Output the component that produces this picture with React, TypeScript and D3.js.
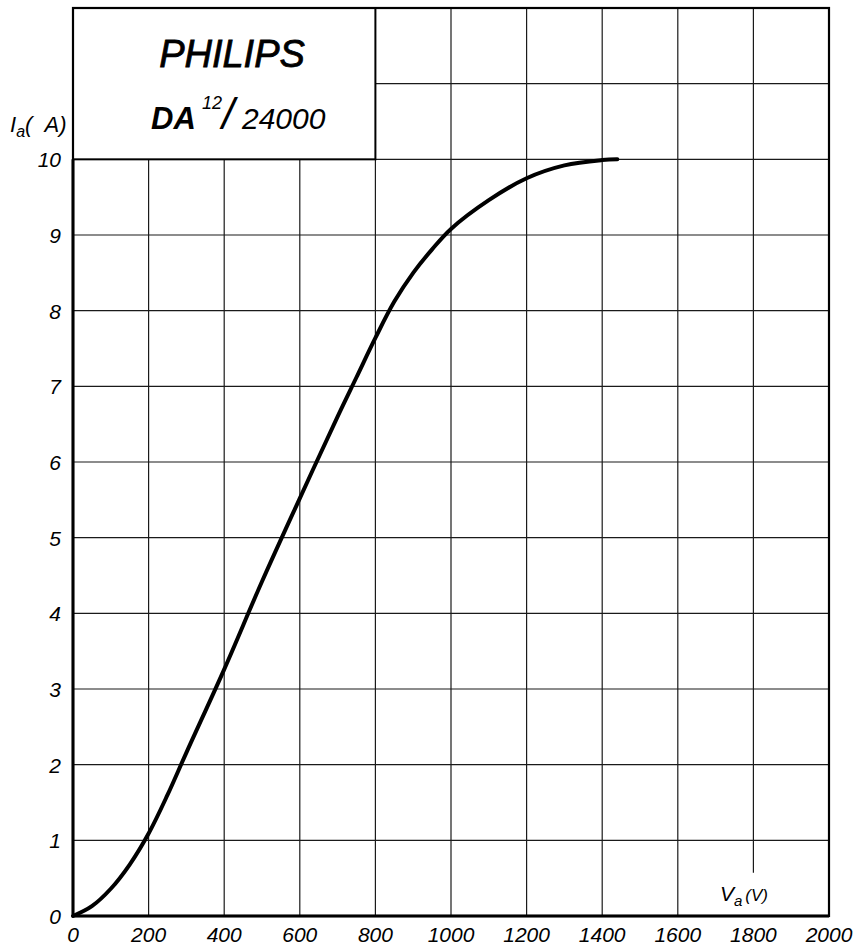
import React from 'react';
import * as d3 from 'd3';

// anode voltage (V) vs anode current (A)
const anodeVoltage = [0, 50, 100, 150, 200, 250, 300, 400, 500, 600, 700, 750, 800, 850, 900, 950, 1000, 1100, 1200, 1300, 1400, 1440];
const anodeCurrent = [0, 0.13, 0.36, 0.68, 1.09, 1.6, 2.16, 3.26, 4.42, 5.52, 6.6, 7.12, 7.64, 8.12, 8.5, 8.81, 9.08, 9.46, 9.75, 9.92, 9.99, 10.0];

const xTicks = [0, 200, 400, 600, 800, 1000, 1200, 1400, 1600, 1800, 2000];
const yTicks = [0, 1, 2, 3, 4, 5, 6, 7, 8, 9, 10];
const yGrid = [1, 2, 3, 4, 5, 6, 7, 8, 9, 10, 11];

const W = 856;
const H = 948;
const font = "'Liberation Sans', Arial, sans-serif";

export default function App() {
  const x = d3.scaleLinear().domain([0, 2000]).range([73, 829]);
  const y = d3.scaleLinear().domain([0, 12]).range([916, 8]);

  const points = anodeVoltage.map((v, i) => [v, anodeCurrent[i]] as [number, number]);
  const line = d3.line<[number, number]>()
    .x(d => x(d[0]))
    .y(d => y(d[1]))
    .curve(d3.curveCatmullRom.alpha(0.5));

  const gridColor = '#1a1a1a';

  return (
    <svg width={W} height={H} style={{ position: 'absolute', left: 0, top: 0, background: '#fff' }}>
      {/* vertical grid */}
      {xTicks.slice(1, -1).map(t => {
        let y0 = 0;
        let y1 = 12;
        if (t <= 800) y1 = 10;
        if (t === 1800) y0 = 0.57;
        return (
          <line key={'vx' + t} x1={x(t)} x2={x(t)} y1={y(y0)} y2={y(y1)}
            stroke={gridColor} strokeWidth={1.2} />
        );
      })}
      {/* horizontal grid */}
      {yGrid.map(t => (
        <line key={'hy' + t} x1={x(t === 11 ? 800 : 0)} x2={x(2000)} y1={y(t)} y2={y(t)}
          stroke={gridColor} strokeWidth={1.2} />
      ))}

      {/* title box */}
      <rect x={x(0)} y={y(12)} width={x(800) - x(0)} height={y(10) - y(12)}
        fill="#fff" stroke="#000" strokeWidth={2} />

      {/* frame */}
      <rect x={x(0)} y={y(12)} width={x(2000) - x(0)} height={y(0) - y(12)}
        fill="none" stroke="#000" strokeWidth={2.2} />
      <line x1={x(0)} x2={x(0)} y1={y(0)} y2={y(10)} stroke="#000" strokeWidth={3} />
      <line x1={x(0)} x2={x(2000)} y1={y(0)} y2={y(0)} stroke="#000" strokeWidth={3} />

      {/* curve */}
      <path d={line(points) || ''} fill="none" stroke="#000" strokeWidth={4} strokeLinecap="round" />

      {/* title text */}
      <text x={232} y={67} textAnchor="middle" fontFamily={font} fontStyle="italic" fontSize={38}
        stroke="#000" strokeWidth={0.8}>PHILIPS</text>
      <text x={151} y={129} fontFamily={font} fontStyle="italic" fontWeight="bold" fontSize={31}>DA</text>
      <text x={202} y={109} fontFamily={font} fontStyle="italic" fontSize={18}>12</text>
      <text x={222} y={129} fontFamily={font} fontStyle="italic" fontSize={44}>/</text>
      <text x={242} y={129} fontFamily={font} fontStyle="italic" fontSize={30}>24000</text>

      {/* y axis */}
      {yTicks.map(t => (
        <text key={'yl' + t} x={61} y={y(t) + 8} textAnchor="end" fontFamily={font}
          fontStyle="italic" fontSize={21}>{t}</text>
      ))}
      <text x={10} y={132} fontFamily={font} fontStyle="italic" fontSize={22}>
        I<tspan fontSize={16} dy={5}>a</tspan><tspan dy={-5} fontSize={22}>(&#160;&#160;A)</tspan>
      </text>

      {/* x axis */}
      {xTicks.map(t => (
        <text key={'xl' + t} x={x(t)} y={942} textAnchor="middle" fontFamily={font}
          fontStyle="italic" fontSize={21}>{t}</text>
      ))}
      <text x={720} y={901} fontFamily={font} fontStyle="italic" fontSize={21}>
        V<tspan fontSize={15} dy={5}>a</tspan><tspan dy={-5} dx={3} fontSize={17}>(V)</tspan>
      </text>
    </svg>
  );
}
